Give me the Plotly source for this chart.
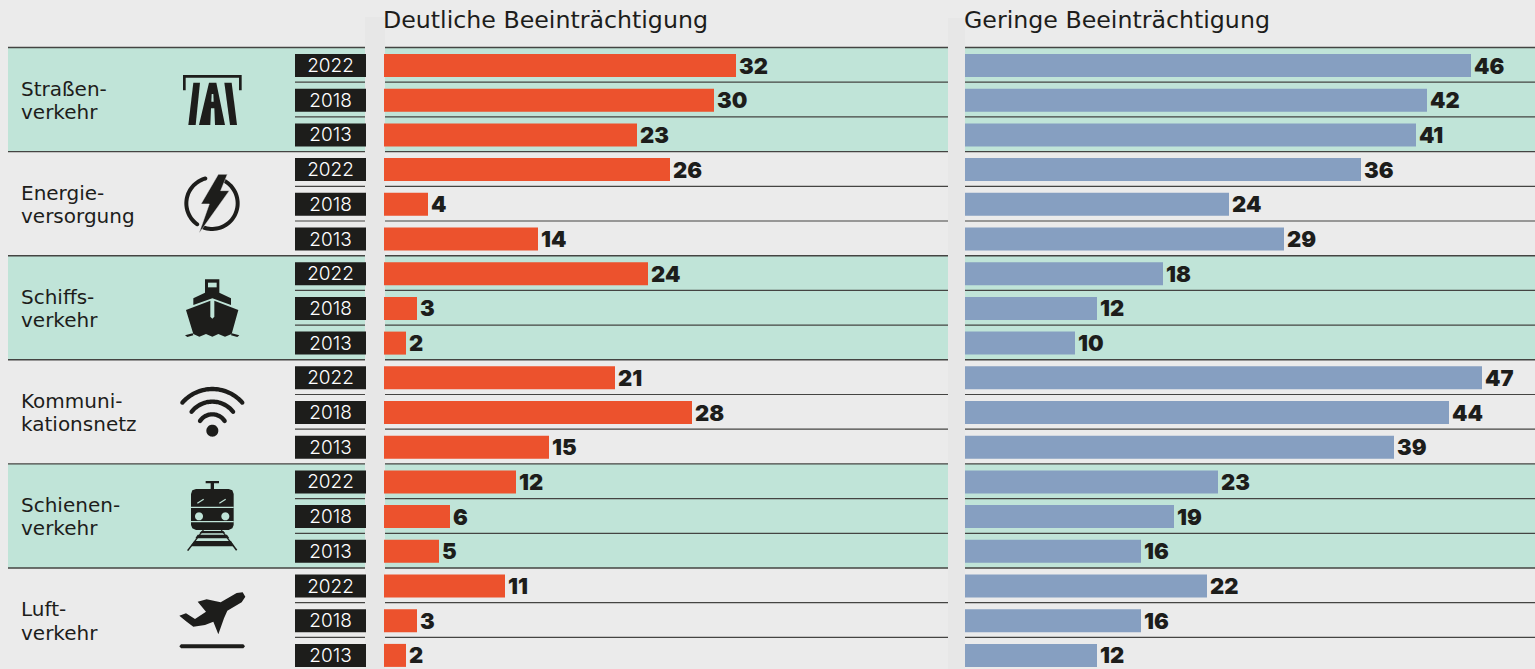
import numpy as np
import plotly.graph_objects as go

# ---------- data ----------
CATEGORIES = [["Straßen-", "verkehr"], ["Energie-", "versorgung"], ["Schiffs-", "verkehr"],
              ["Kommuni-", "kationsnetz"], ["Schienen-", "verkehr"], ["Luft-", "verkehr"]]
YEARS = ["2022", "2018", "2013"]
DEUTLICH = [32, 30, 23, 26, 4, 14, 24, 3, 2, 21, 28, 15, 12, 6, 5, 11, 3, 2]
GERING = [46, 42, 41, 36, 24, 29, 18, 12, 10, 47, 44, 39, 23, 19, 16, 22, 16, 12]
TITLE_LEFT = "Deutliche Beeinträchtigung"
TITLE_RIGHT = "Geringe Beeinträchtigung"

# ---------- style ----------
W, H = 1535, 669
BG, GREEN, INK, RED, BLUE, STRIP = "#ebebeb", "#c0e4d8", "#1d1d1b", "#ec522d", "#869fc1", "#e7e7e7"
FONT = "DejaVu Sans"
ROW, Y0 = 34.7, 65.5
PX_PER_UNIT = 11.0
BAR_H = 23 / ROW

px = lambda x: x / W
py = lambda y: 1 - y / H
to_row = lambda y: (y - Y0) / ROW
rows = list(range(len(DEUTLICH)))
labels_y = [y for _ in CATEGORIES for y in YEARS]

fig = go.Figure()


def bars(values, axis, color):
    fig.add_trace(go.Bar(
        x=values, y=rows, orientation="h", xaxis=axis, yaxis="y", width=BAR_H,
        marker=dict(color=color, line=dict(width=0)),
        text=[str(v) for v in values], textposition="outside", textangle=0,
        constraintext="none", cliponaxis=False,
        textfont=dict(family="Inter", size=22, color=INK, weight=900),
        hoverinfo="skip", showlegend=False))


bars(DEUTLICH, "x", RED)
bars(GERING, "x2", BLUE)
fig.add_trace(go.Bar(
    x=[1] * len(rows), y=rows, orientation="h", xaxis="x3", yaxis="y", width=BAR_H,
    marker=dict(color=INK, line=dict(width=0)),
    text=labels_y, textposition="inside", insidetextanchor="middle", textangle=0,
    constraintext="none", cliponaxis=False,
    textfont=dict(family="Inter", size=19, color="#ffffff", weight=300),
    hoverinfo="skip", showlegend=False))

shapes = []
# bands
for g in (0, 2, 4):
    shapes.append(dict(type="rect", xref="paper", yref="paper", layer="below",
                       x0=px(8), x1=1, y0=py(47.5 + 3 * g * ROW), y1=py(47.5 + 3 * (g + 1) * ROW),
                       fillcolor=GREEN, line_width=0))
# rules
for i in range(18):
    y = 47.5 + i * ROW
    major = i % 3 == 0
    shapes.append(dict(type="line", xref="paper", yref="paper", layer="below",
                       x0=px(8 if major else 295), x1=1, y0=py(y), y1=py(y),
                       line=dict(color="#444442", width=1.4 if major else 1.2)))
# gutters
for a, b, top in ((365, 385, 17), (948, 965, 18)):
    shapes.append(dict(type="rect", xref="paper", yref="paper", layer="below",
                       x0=px(a), x1=px(b), y0=0, y1=py(top), fillcolor=STRIP, line_width=0))


# ---------- icons: shapes given in 3x crop pixels ----------
def poly(pts, ox, oy, fill=INK, stroke=None, sw=0):
    d = "M" + "L".join(f"{px(ox + x / 3):.5f},{py(oy + y / 3):.5f}" for x, y in pts) + "Z"
    shapes.append(dict(type="path", xref="paper", yref="paper", path=d, fillcolor=fill,
                       line=dict(color=stroke or fill, width=sw)))


def circle_pts(cx, cy, r, n=40):
    t = np.linspace(0, 2 * np.pi, n, endpoint=False)
    return list(zip(cx + r * np.cos(t), cy + r * np.sin(t)))


def arc_band(cx, cy, r, w, a0, a1, n=40):
    """Thick arc with round ends; angles in degrees, clockwise from up."""
    a = np.radians(np.linspace(a0, a1, n))
    outer = list(zip(cx + (r + w / 2) * np.sin(a), cy - (r + w / 2) * np.cos(a)))
    inner = list(zip(cx + (r - w / 2) * np.sin(a), cy - (r - w / 2) * np.cos(a)))
    def cap(ang, sign):
        ex, ey = cx + r * np.sin(ang), cy - r * np.cos(ang)
        ts = np.linspace(0, np.pi, 8)[1:-1]
        out = []
        for t in ts:
            ux, uy = np.sin(ang), -np.cos(ang)
            tx, ty = np.cos(ang) * sign, np.sin(ang) * sign
            out.append((ex + w / 2 * (ux * np.cos(t) + tx * np.sin(t)),
                        ey + w / 2 * (uy * np.cos(t) + ty * np.sin(t))))
        return out
    return outer + cap(a[-1], 1) + inner[::-1] + cap(a[0], -1)[::-1]


# road
R = (0, 0)
poly([(549, 225), (725, 225), (725, 271), (717, 271), (717, 233), (557, 233), (557, 271), (549, 271)], *R)
poly([(580, 248), (600, 248), (587, 375), (565, 375)], *R)
poly([(673, 248), (695, 248), (711, 375), (690, 375)], *R)
poly([(627, 248), (649, 248), (675, 375), (645, 375), (643, 325), (633, 325), (631, 375), (597, 375)], *R)
poly([(635, 282), (640, 282), (641, 305), (634, 305)], *R, fill=GREEN)

# lightning
E = (0, 0)
poly(arc_band(636, 610, 77, 12, 30, 200), *E)
poly(arc_band(636, 610, 77, 12, 215, 345), *E)
poly([(655, 523), (682, 523), (662, 572), (688, 572), (597, 700), (628, 612), (603, 612)], *E, stroke=BG, sw=0.5)

# ship
S = (150, 260)
poly([(165, 58), (208, 58), (208, 98), (243, 115), (243, 135), (187, 115), (130, 135), (130, 115), (165, 98)], *S)
poly([(174, 68), (200, 68), (200, 82), (174, 82)], *S, fill=GREEN)
poly([(108, 150), (181, 122), (181, 170), (187, 176), (193, 170), (193, 122), (265, 150), (245, 222),
      (225, 230), (205, 222), (187, 230), (168, 222), (148, 230), (130, 222)], *S)
poly([(105, 226), (128, 220), (130, 226), (112, 231)], *S)
poly([(268, 226), (245, 220), (243, 226), (262, 231)], *S)

# wifi
K = (150, 260)
poly(circle_pts(187, 512, 18), *K)
poly(arc_band(187, 506, 119, 13, -49, 49), *K)
poly(arc_band(187, 504, 79, 13, -52, 52), *K)
poly(arc_band(187, 507, 44, 13, -57, 57), *K)

# train
T = (150, 465)
poly([(167, 48), (207, 48), (207, 55), (192, 55), (192, 72), (182, 72), (182, 55), (167, 55)], *T)
poly([(138, 72), (236, 72), (247, 76), (251, 87), (251, 180), (247, 190), (236, 195), (138, 195),
      (127, 190), (123, 180), (123, 87), (127, 76)], *T)
poly([(123, 125), (251, 125), (251, 129), (123, 129)], *T, fill=GREEN)
poly([(123, 168), (251, 168), (251, 172), (123, 172)], *T, fill=GREEN)
poly(circle_pts(147, 154, 12), *T, fill=GREEN)
poly(circle_pts(226, 154, 12), *T, fill=GREEN)
poly([(141, 113), (160, 101), (162, 104), (143, 116)], *T, fill=GREEN)
poly([(207, 113), (226, 101), (228, 104), (209, 116)], *T, fill=GREEN)
poly([(158, 195), (162, 195), (115, 258), (111, 256)], *T)
poly([(212, 195), (216, 195), (262, 254), (258, 257)], *T)
poly([(155, 198), (220, 198), (226, 205), (148, 205)], *T)
poly([(143, 209), (231, 209), (238, 220), (136, 220)], *T)
poly([(133, 228), (243, 228), (253, 244), (122, 244)], *T)

# plane
P = (150, 465)
poly([(88, 452), (108, 445), (135, 462), (168, 440), (143, 410), (170, 403), (212, 412), (260, 384),
      (278, 382), (286, 395), (275, 412), (232, 437), (222, 460), (205, 508), (190, 470), (165, 480),
      (130, 485), (110, 470)], *P)
poly([(93, 538), (280, 538), (285, 544), (280, 550), (93, 550), (88, 544)], *P)

# ---------- text ----------
ann = []
for title, x in ((TITLE_LEFT, 381), (TITLE_RIGHT, 962)):
    ann.append(dict(text=title, xref="paper", yref="paper", x=px(x), y=py(20), xanchor="left", yanchor="middle",
                    showarrow=False, font=dict(family=FONT, size=23.7, color=INK)))
for i, lines in enumerate(CATEGORIES):
    for j, line in enumerate(lines):
        ann.append(dict(text=line, xref="paper", yref="paper", x=px(19), y=py(88.5 + 23.5 * j + i * 3 * ROW),
                        xanchor="left", yanchor="middle", align="left", showarrow=False,
                        font=dict(family=FONT, size=20, color=INK)))

axis = dict(visible=False, fixedrange=True, showgrid=False, zeroline=False)
fig.update_layout(
    width=W, height=H, margin=dict(l=0, r=0, t=0, b=0, pad=0, autoexpand=False),
    paper_bgcolor=BG, plot_bgcolor="rgba(0,0,0,0)", showlegend=False,
    barmode="overlay", shapes=shapes, annotations=ann,
    xaxis=dict(axis, domain=[px(384), px(948)], range=[0, 564 / PX_PER_UNIT], anchor="y"),
    xaxis2=dict(axis, domain=[px(965), 1], range=[0, 570 / PX_PER_UNIT], anchor="y"),
    xaxis3=dict(axis, domain=[px(295), px(366)], range=[0, 1], anchor="y"),
    yaxis=dict(axis, domain=[0, 1], range=[to_row(H), to_row(0)]),
)
fig.write_html("out.html", config=dict(displayModeBar=False, staticPlot=True),
               post_script="document.body.style.margin='0';document.body.style.overflow='hidden';")
